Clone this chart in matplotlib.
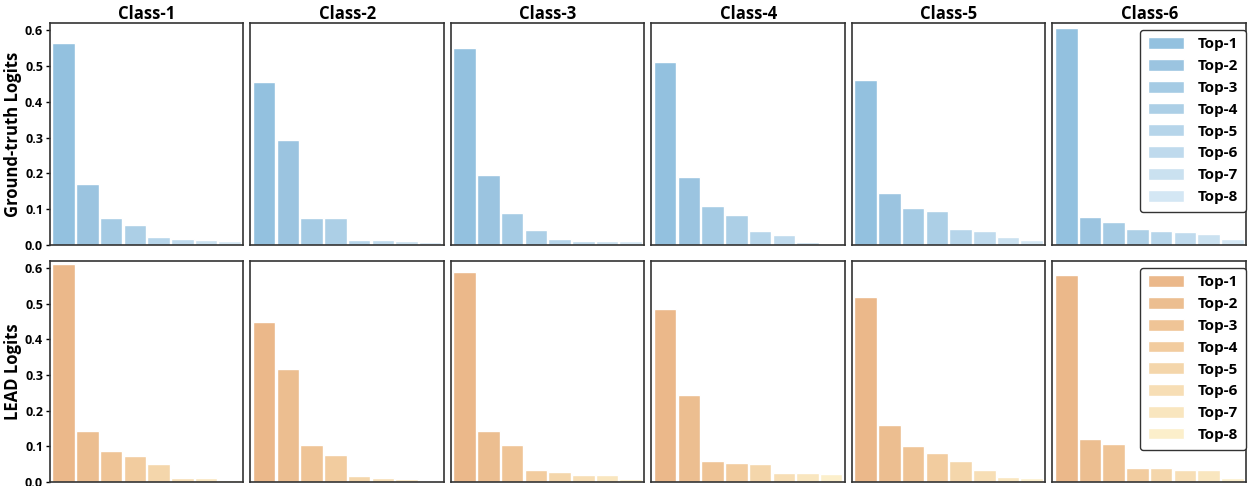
import matplotlib
matplotlib.use("Agg")
import matplotlib.pyplot as plt
from matplotlib.patches import Patch

classes = ["Class-1", "Class-2", "Class-3", "Class-4", "Class-5", "Class-6"]
ranks = ["Top-1", "Top-2", "Top-3", "Top-4", "Top-5", "Top-6", "Top-7", "Top-8"]
row_labels = ["Ground-truth Logits", "LEAD Logits"]

gt_c1 = [0.565, 0.170, 0.075, 0.056, 0.022, 0.018, 0.013, 0.011]
gt_c2 = [0.455, 0.293, 0.076, 0.074, 0.015, 0.014, 0.012, 0.009]
gt_c3 = [0.549, 0.195, 0.089, 0.042, 0.016, 0.011, 0.011, 0.010]
gt_c4 = [0.510, 0.190, 0.110, 0.085, 0.038, 0.029, 0.009, 0.003]
gt_c5 = [0.462, 0.145, 0.103, 0.096, 0.045, 0.040, 0.022, 0.014]
gt_c6 = [0.605, 0.078, 0.064, 0.045, 0.040, 0.035, 0.030, 0.018]

lead_c1 = [0.611, 0.144, 0.087, 0.073, 0.050, 0.010, 0.010, 0.007]
lead_c2 = [0.448, 0.318, 0.104, 0.077, 0.018, 0.012, 0.008, 0.004]
lead_c3 = [0.588, 0.142, 0.105, 0.035, 0.028, 0.021, 0.021, 0.008]
lead_c4 = [0.484, 0.243, 0.060, 0.052, 0.050, 0.026, 0.024, 0.022]
lead_c5 = [0.520, 0.160, 0.100, 0.080, 0.060, 0.033, 0.013, 0.010]
lead_c6 = [0.580, 0.120, 0.106, 0.038, 0.038, 0.034, 0.033, 0.012]

gt_data = [gt_c1, gt_c2, gt_c3, gt_c4, gt_c5, gt_c6]
lead_data = [lead_c1, lead_c2, lead_c3, lead_c4, lead_c5, lead_c6]

blue_colors = ["#93c1df", "#9bc4e0", "#a5cbe4", "#accfe6", "#b6d5ea", "#bfdaed", "#cae1f0", "#d4e7f4"]
orange_colors = ["#ebb88a", "#ecbe90", "#efc496", "#f2cc9f", "#f4d6ab", "#f7deb5", "#f9e6bf", "#fcefcb"]

plt.rcParams['font.family'] = ['Open Sans', 'DejaVu Sans']
plt.rcParams['font.weight'] = 'bold'

fig = plt.figure(figsize=(12.49, 4.86), dpi=100)
left, right = 0.040, 0.9976
gap = 7 / 1249
w = (right - left - 5 * gap) / 6
rows = [(0.496, 0.9527 - 0.496), (0.0082, 0.463 - 0.0082)]

for r, (data, colors) in enumerate([(gt_data, blue_colors), (lead_data, orange_colors)]):
    b, h = rows[r]
    for c in range(6):
        ax = fig.add_axes([left + c * (w + gap), b, w, h])
        x = list(range(len(ranks)))
        ax.bar(x, data[c], width=0.95, color=colors, edgecolor='white', linewidth=1.0)
        ax.set_xlim(-0.58, 7.58)
        ax.set_ylim(0, 0.62)
        ax.set_xticks([])
        for s in ax.spines.values():
            s.set_color('#333333')
            s.set_linewidth(1.2)
        if c == 0:
            ax.set_yticks([0.0, 0.1, 0.2, 0.3, 0.4, 0.5, 0.6])
            ax.set_yticklabels([f"{v:.1f}" for v in [0.0, 0.1, 0.2, 0.3, 0.4, 0.5, 0.6]],
                               fontsize=9, fontweight='bold')
            ax.tick_params(axis='y', length=3, width=1, pad=2)
            ax.set_ylabel(row_labels[r], fontsize=12, fontweight='bold', labelpad=2)
        else:
            ax.set_yticks([])
        if r == 0:
            ax.set_title(classes[c], fontsize=12, fontweight='bold', pad=3)
        if c == 5:
            handles = [Patch(facecolor=colors[i], edgecolor='white', label=ranks[i]) for i in range(8)]
            leg = ax.legend(handles=handles, loc='upper right', bbox_to_anchor=(1.0, 0.97),
                            prop={'weight': 'bold', 'size': 11}, frameon=True,
                            handlelength=2.4, handleheight=0.8, labelspacing=0.5,
                            borderpad=0.5, handletextpad=0.9, borderaxespad=0.0,
                            fancybox=True)
            leg.get_frame().set_edgecolor('#333333')
            leg.get_frame().set_linewidth(1.0)
            leg.get_frame().set_alpha(1)

fig.savefig("out.png", dpi=100)
